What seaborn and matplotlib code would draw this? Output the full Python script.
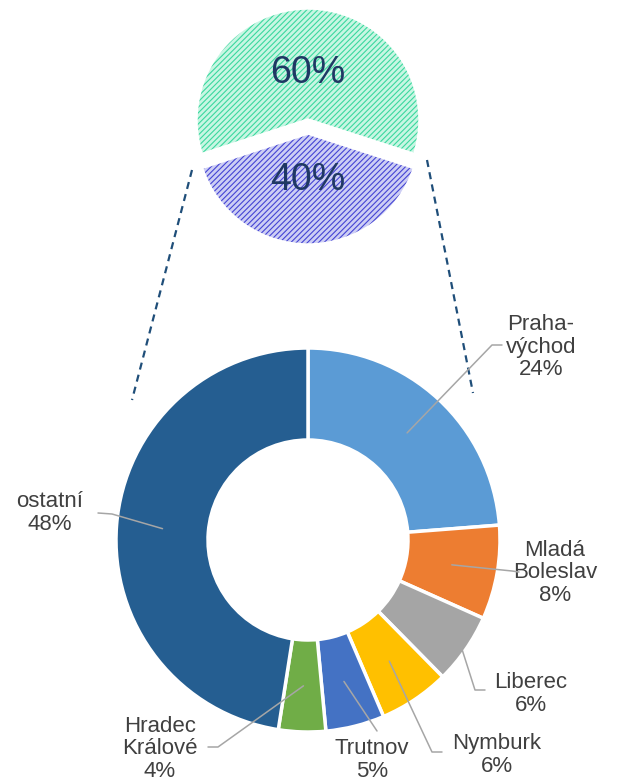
import numpy as np
import matplotlib.pyplot as plt
import seaborn as sns

sns.set_theme(style="white")
plt.rcParams["font.family"] = ["Liberation Sans", "DejaVu Sans"]
plt.rcParams["hatch.linewidth"] = 0.8

# top pie (share split)
share_values = [60, 40]
share_face = ["#c8f6e3", "#cdcef4"]
share_hatch = ["#3ad89e", "#4444d4"]

# donut (districts)
districts = ["Praha-\nvýchod", "Mladá\nBoleslav", "Liberec", "Nymburk", "Trutnov", "Hradec\nKrálové", "ostatní"]
district_pct = [24, 8, 6, 6, 5, 4, 48]
district_colors = ["#5b9bd5", "#ed7d31", "#a5a5a5", "#ffc000", "#4472c4", "#70ad47", "#255e91"]

H = 784


def px(x, y):
    # image pixel coords -> data coords
    return x, H - y


fig = plt.figure(figsize=(6.21, 7.84), dpi=100)
ax = fig.add_axes([0, 0, 1, 1])

# ---- top pie, hatched layer then white outline on top
top_c = px(308, 120)
top_r = 112
explode = [0, 13]  # pie explode is in data units
wedges, _, pct = ax.pie(
    share_values, center=top_c, radius=top_r, startangle=-18, explode=explode,
    colors=share_face, autopct="%d%%", pctdistance=0.42,
    wedgeprops=dict(linewidth=0), textprops=dict(fontsize=27, color="#1f3864"),
)
for w, hc in zip(wedges, share_hatch):
    w.set_hatch("//////")
    w.set_edgecolor(hc)
    w.set_linewidth(0)
for t in pct:
    t.set_zorder(10)
ax.pie(share_values, center=top_c, radius=top_r, startangle=-18, explode=explode,
       colors=["none", "none"], wedgeprops=dict(edgecolor="white", linewidth=2.5))

# ---- donut
don_c = px(308, 540)
don_r = 192
dw, _ = ax.pie(
    district_pct, center=don_c, radius=don_r, startangle=90, counterclock=False,
    colors=sns.color_palette(district_colors),
    wedgeprops=dict(width=92, edgecolor="white", linewidth=2.5),
)

# labels: text centre, leader elbow/end, anchor radius fraction
label_layout = [
    ((541, 347), [(492, 345), (502, 345)], 0.76),
    ((555, 573), [(512, 571), (519, 572)], 0.76),
    ((531, 694), [(475, 690), (485, 690)], 0.97),
    ((497, 755), [(432, 752), (442, 752)], 0.76),
    ((372, 760), [(377, 731)], 0.76),
    ((160, 749), [(218, 747), (208, 747)], 0.76),
    ((50, 513), [(112, 514), (98, 513)], 0.76),
]
for w, name, p, (tpos, pts, rf) in zip(dw, districts, district_pct, label_layout):
    ang = np.deg2rad((w.theta1 + w.theta2) / 2)
    ax0 = don_c[0] + rf * don_r * np.cos(ang)
    ay0 = don_c[1] + rf * don_r * np.sin(ang)
    xs = [ax0] + [q[0] for q in pts]
    ys = [ay0] + [H - q[1] for q in pts]
    ax.plot(xs, ys, color="#a6a6a6", lw=1.1, zorder=5)
    ax.text(*px(*tpos), f"{name}\n{p}%", ha="center", va="center",
            fontsize=16, color="#404040", linespacing=1.1)

# dashed connectors between pie and donut
for (x0, y0), (x1, y1) in [((192, 170), (132, 400)), ((427, 160), (473, 393))]:
    ax.plot([x0, x1], [H - y0, H - y1], color="#1f4e79", lw=1.6,
            linestyle=(0, (3.2, 2.4)))

ax.set_xlim(0, 621)
ax.set_ylim(0, H)
ax.set_aspect("equal")
ax.axis("off")

fig.savefig("out.png", dpi=100)
